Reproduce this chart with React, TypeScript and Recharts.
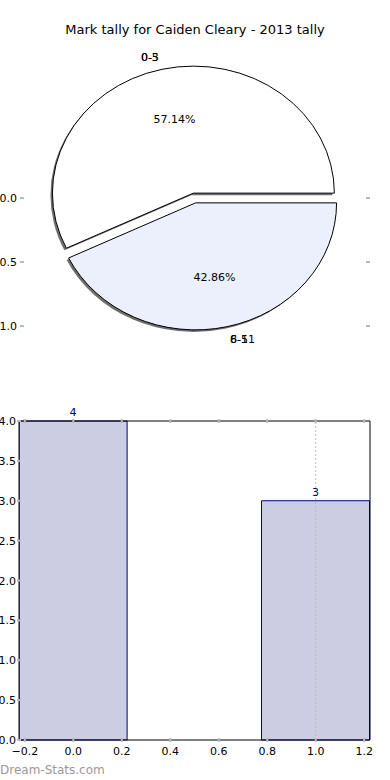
import React from 'react';
import { PieChart, Pie, ComposedChart, Bar, XAxis, YAxis, ReferenceLine, LabelList } from 'recharts';

// pie: share of marks per range
const sliceLabels = ['0-5', '6-11'];
const ghostLabels = ['0-3', '8-5'];
const sliceCounts = [4, 3];
const sliceColors = ['#FFFFFF', '#EBF0FC'];
const pieAxisTicks = [0, 0.5, 1];

// bars: count per position
const barPositions = [0, 1];
const barCounts = [4, 3];
const xTicks = [-0.2, 0, 0.2, 0.4, 0.6, 0.8, 1.0, 1.2];
const yTicks = [0, 0.5, 1, 1.5, 2, 2.5, 3, 3.5, 4];

if (typeof document !== 'undefined') document.body.style.margin = '0';

const FONT = "'DejaVu Sans', sans-serif";
const RAD = Math.PI / 180;
const PIE_CX = 194.5;
const PIE_CY = 198;
const PIE_R = 127;
const X_STRETCH = 1.11;
const EXPLODE = 5;

const fmt = (v: number) => v.toFixed(1).replace('-', '\u2212');

function ellipseSector(cx: number, cy: number, rx: number, ry: number, a0: number, a1: number) {
  const p = (a: number) => [cx + rx * Math.cos(a * RAD), cy - ry * Math.sin(a * RAD)];
  const [x0, y0] = p(a0);
  const [x1, y1] = p(a1);
  const large = Math.abs(a1 - a0) > 180 ? 1 : 0;
  return `M${cx},${cy} L${x0},${y0} A${rx},${ry} 0 ${large} 0 ${x1},${y1} Z`;
}

// draws the stretched, exploded wedge plus its texts from the angles recharts computed
function renderSlice(props: any) {
  const { cx, cy, outerRadius, startAngle, endAngle, midAngle, percent, index } = props;
  const rx = outerRadius * X_STRETCH;
  const ry = outerRadius;
  const ox = cx + EXPLODE * Math.cos(midAngle * RAD);
  const oy = cy - EXPLODE * Math.sin(midAngle * RAD);
  const lx = ox + 1.1 * rx * Math.cos(midAngle * RAD);
  const ly = oy - 1.1 * ry * Math.sin(midAngle * RAD);
  const px = ox + 0.6 * rx * Math.cos(midAngle * RAD);
  const py = oy - 0.6 * ry * Math.sin(midAngle * RAD);
  const anchor = lx > cx ? 'start' : 'end';
  return (
    <g key={`slice-${index}`}>
      <path d={ellipseSector(ox - 2, oy + 2, rx, ry, startAngle, endAngle)} fill="#555" opacity={0.85} />
      <path
        d={ellipseSector(ox, oy, rx, ry, startAngle, endAngle)}
        fill={sliceColors[index]}
        stroke="#000"
        strokeWidth={1}
      />
      <text x={px} y={py} dy={4} textAnchor="middle" fontSize={11} fill="#000">
        {(percent * 100).toFixed(2)}%
      </text>
      <text x={lx} y={ly} dy={4} textAnchor={anchor} fontSize={11} fill="#000">
        {sliceLabels[index]}
      </text>
      <text x={lx} y={ly} dy={4} textAnchor={anchor} fontSize={11} fill="#000">
        {ghostLabels[index]}
      </text>
    </g>
  );
}

const tickGray = '#bbb';

const BottomTick = ({ x, y, payload }: any) => (
  <g>
    <line x1={x} x2={x} y1={y} y2={y - 4} stroke={tickGray} strokeWidth={2} />
    <text x={x} y={y + 13} textAnchor="middle" fontSize={11} fill="#000">
      {fmt(payload.value)}
    </text>
  </g>
);

const TopTick = ({ x, y }: any) => (
  <line x1={x} x2={x} y1={y} y2={y + 4} stroke={tickGray} strokeWidth={2} />
);

const LeftTick = ({ x, y, payload }: any) => (
  <g>
    <line x1={x} x2={x + 4} y1={y} y2={y} stroke={tickGray} strokeWidth={2} />
    <text x={x - 1} y={y} dy={4} textAnchor="end" fontSize={11} fill="#000">
      {fmt(payload.value)}
    </text>
  </g>
);

const RightTick = ({ x, y }: any) => (
  <line x1={x} x2={x - 4} y1={y} y2={y} stroke={tickGray} strokeWidth={2} />
);

export default function App() {
  const pieData = sliceLabels.map((name, i) => ({ name, value: sliceCounts[i] }));
  const barData = barPositions.map((x, i) => ({ x, count: barCounts[i] }));

  return (
    <div style={{ position: 'relative', width: 390, height: 780, fontFamily: FONT, background: '#fff' }}>
      <div style={{ position: 'absolute', left: 0, top: 0 }}>
        <PieChart width={390} height={380} margin={{ top: 0, right: 0, bottom: 0, left: 0 }}>
          <Pie
            data={pieData}
            dataKey="value"
            nameKey="name"
            cx={PIE_CX}
            cy={PIE_CY}
            outerRadius={PIE_R}
            startAngle={0}
            endAngle={360}
            fill="none"
            stroke="none"
            labelLine={false}
            label={renderSlice}
            isAnimationActive={false}
          />
        </PieChart>
      </div>
      <svg width={390} height={380} style={{ position: 'absolute', left: 0, top: 0, pointerEvents: 'none' }}>
        <text x={195} y={34} textAnchor="middle" fontSize={13} fill="#000">
          Mark tally for Caiden Cleary - 2013 tally
        </text>
        {pieAxisTicks.map((v) => {
          const y = PIE_CY + v * (PIE_R + 1);
          return (
            <g key={v}>
              <text x={17} y={y} dy={4} textAnchor="end" fontSize={11} fill="#000">
                {fmt(v)}
              </text>
              <line x1={20} x2={24} y1={y} y2={y} stroke={tickGray} strokeWidth={2} />
              <line x1={366} x2={370} y1={y} y2={y} stroke={tickGray} strokeWidth={2} />
            </g>
          );
        })}
      </svg>
      <div style={{ position: 'absolute', left: 0, top: 380 }}>
        <ComposedChart width={390} height={400} data={barData} margin={{ top: 40, right: 19, bottom: 0, left: 0 }}>
          <XAxis
            dataKey="x"
            type="number"
            domain={[-0.224, 1.224]}
            ticks={xTicks}
            allowDataOverflow
            height={40}
            tickSize={0}
            tickLine={false}
            axisLine={{ stroke: '#000' }}
            tick={<BottomTick />}
            interval={0}
          />
          <XAxis
            xAxisId="top"
            orientation="top"
            dataKey="x"
            type="number"
            domain={[-0.224, 1.224]}
            ticks={xTicks}
            allowDataOverflow
            height={1}
            tickSize={0}
            tickLine={false}
            axisLine={{ stroke: '#000' }}
            tick={<TopTick />}
            interval={0}
          />
          <YAxis
            domain={[0, 4]}
            ticks={yTicks}
            width={19}
            tickSize={0}
            tickLine={false}
            axisLine={{ stroke: '#000' }}
            tick={<LeftTick />}
            interval={0}
          />
          <YAxis
            yAxisId="right"
            orientation="right"
            domain={[0, 4]}
            ticks={yTicks}
            width={1}
            tickSize={0}
            tickLine={false}
            axisLine={{ stroke: '#000' }}
            tick={<RightTick />}
            interval={0}
          />
          <Bar dataKey="count" fill="#CCCCE3" stroke="#000080" strokeWidth={1} barSize={108} isAnimationActive={false}>
            <LabelList dataKey="count" position="top" fill="#000080" fontSize={11} />
          </Bar>
          <ReferenceLine x={1} stroke="#bbb" strokeDasharray="2 2" />
        </ComposedChart>
      </div>
      <div style={{ position: 'absolute', left: 0, top: 763, fontSize: 12, color: '#999' }}>Dream-Stats.com</div>
    </div>
  );
}
